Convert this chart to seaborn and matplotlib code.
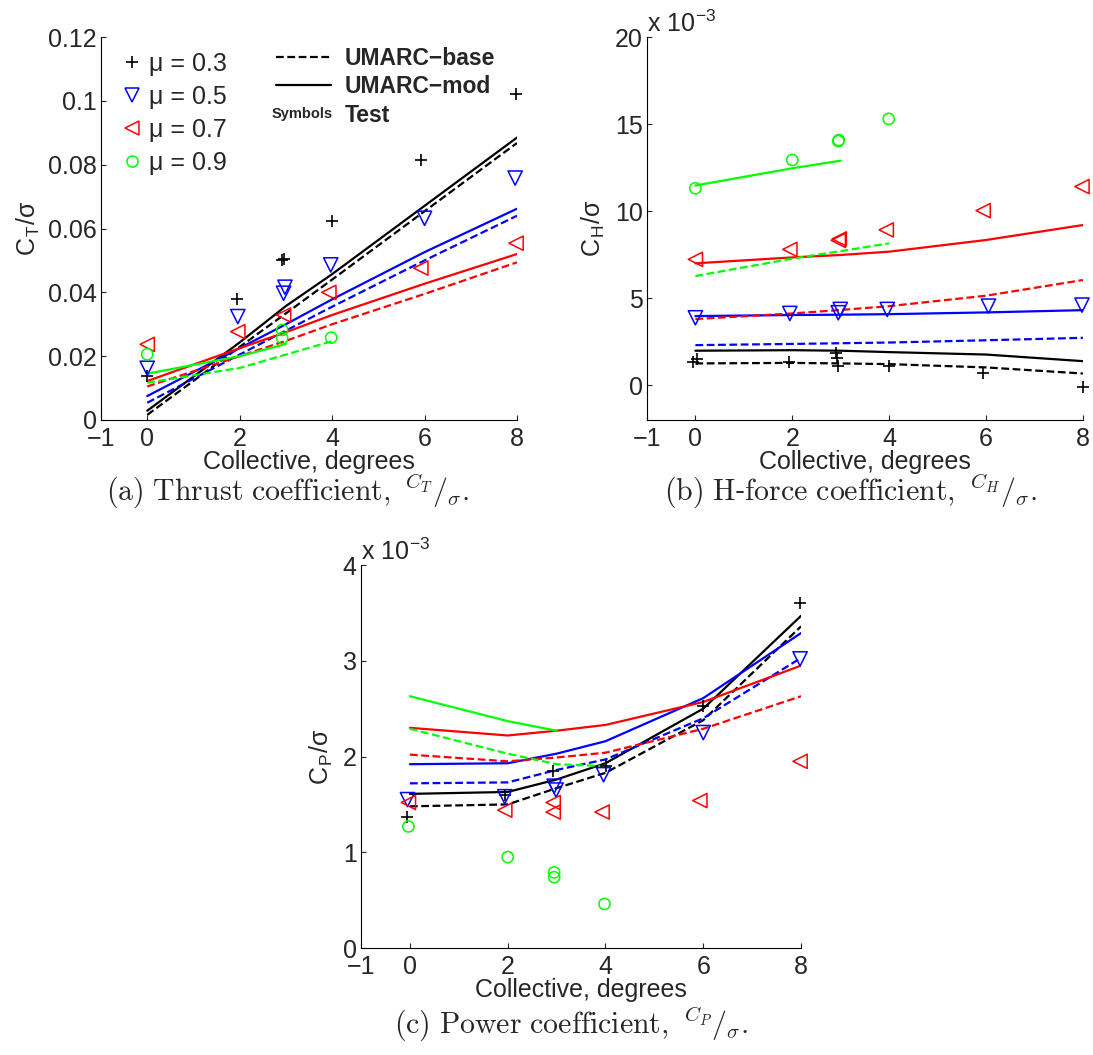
import numpy as np
import pandas as pd
import matplotlib
matplotlib.use("Agg")
import matplotlib.pyplot as plt
import seaborn as sns
from matplotlib.lines import Line2D

sns.set_style("white")
plt.rcParams["font.family"] = ["Liberation Sans", "DejaVu Sans"]
plt.rcParams["mathtext.fontset"] = "cm"
plt.rcParams["axes.edgecolor"] = "black"
plt.rcParams["axes.linewidth"] = 0.8

K = "#000000"; B = "#0000FF"; R = "#FF0000"; G = "#00FF00"
DASH = (0, (3.5, 1.6))

mu_labels = ["\u03bc = 0.3", "\u03bc = 0.5", "\u03bc = 0.7", "\u03bc = 0.9"]
colors = [K, B, R, G]
markers = ["+", "v", "<", "o"]

# ---------------- (a) thrust CT/sigma ----------------
a_t03_x = [0, 1.94, 2.91, 2.95, 3.99, 5.93, 7.98]
a_t03_y = [0.0138, 0.0379, 0.0502, 0.0505, 0.0622, 0.0814, 0.102]
a_t05_x = [0, 1.96, 2.95, 2.98, 3.97, 6.0, 7.96]
a_t05_y = [0.0162, 0.0324, 0.0397, 0.0416, 0.0486, 0.0632, 0.0758]
a_t07_x = [0, 1.96, 2.95, 3.93, 5.92, 7.98]
a_t07_y = [0.0237, 0.0277, 0.0329, 0.040, 0.0476, 0.0554]
a_t09_x = [0, 2.92, 2.92, 3.98]
a_t09_y = [0.0206, 0.0282, 0.0257, 0.0258]

coll = [0, 2, 3, 4, 6, 8]
coll_09 = [0, 2, 3, 4]
coll_09m = [0, 2, 3]

a_mod03 = [0.0029, 0.0243, 0.0357, 0.0457, 0.0671, 0.0885]
a_base03 = [0.0016, 0.0229, 0.0334, 0.0440, 0.0654, 0.0868]
a_mod05 = [0.0075, 0.0225, 0.0300, 0.0378, 0.0526, 0.0662]
a_base05 = [0.0054, 0.0205, 0.0280, 0.0355, 0.0500, 0.0640]
a_mod07 = [0.0122, 0.0225, 0.0275, 0.0329, 0.0427, 0.0520]
a_base07 = [0.0105, 0.0200, 0.0248, 0.0300, 0.0395, 0.0494]
a_mod09 = [0.0145, 0.0200, 0.0238]
a_base09 = [0.0117, 0.0163, 0.0205, 0.0247]

# ---------------- (b) H-force CH/sigma (x 10^-3) ----------------
b_t03_x = [-0.04, 0.04, 1.94, 2.91, 2.92, 2.95, 4.0, 5.94, 8.0]
b_t03_y = [1.34, 1.53, 1.36, 1.86, 1.59, 1.12, 1.09, 0.71, -0.1]
b_t05_x = [0, 1.95, 2.95, 2.99, 3.96, 6.05, 7.98]
b_t05_y = [3.87, 4.12, 4.16, 4.35, 4.35, 4.54, 4.6]
b_t07_x = [0, 1.95, 2.95, 2.97, 3.94, 5.94, 7.98]
b_t07_y = [7.23, 7.8, 8.32, 8.4, 8.92, 10.03, 11.41]
b_t09_x = [0, 2.0, 2.95, 2.96, 3.99]
b_t09_y = [11.31, 12.94, 14.02, 14.08, 15.3]

b_mod03 = [1.98, 2.01, 1.98, 1.90, 1.76, 1.38]
b_base03 = [1.25, 1.28, 1.25, 1.21, 1.02, 0.67]
b_mod05 = [3.97, 4.03, 4.05, 4.08, 4.18, 4.31]
b_base05 = [2.30, 2.37, 2.41, 2.45, 2.58, 2.72]
b_mod07 = [7.00, 7.34, 7.48, 7.67, 8.34, 9.20]
b_base07 = [3.80, 4.12, 4.32, 4.54, 5.14, 6.04]
b_mod09 = [11.47, 12.46, 12.90]
b_base09 = [6.27, 7.27, 7.70, 8.15]

# ---------------- (c) power CP/sigma (x 10^-3) ----------------
c_t03_x = [-0.05, 1.94, 2.92, 4.01, 5.99, 7.98]
c_t03_y = [1.37, 1.60, 1.85, 1.90, 2.53, 3.60]
c_t05_x = [-0.05, 1.94, 2.95, 2.99, 3.96, 6.0, 7.98]
c_t05_y = [1.55, 1.58, 1.69, 1.65, 1.81, 2.25, 3.02]
c_t07_x = [-0.03, 1.94, 2.93, 2.93, 3.93, 5.93, 7.98]
c_t07_y = [1.52, 1.44, 1.52, 1.42, 1.42, 1.54, 1.95]
c_t09_x = [-0.03, 2.0, 2.95, 2.95, 3.98]
c_t09_y = [1.27, 0.95, 0.79, 0.74, 0.46]

c_mod03 = [1.61, 1.63, 1.76, 1.93, 2.50, 3.47]
c_base03 = [1.48, 1.50, 1.67, 1.83, 2.38, 3.36]
c_mod05 = [1.92, 1.93, 2.03, 2.16, 2.61, 3.29]
c_base05 = [1.72, 1.73, 1.86, 1.97, 2.40, 3.03]
c_mod07 = [2.30, 2.22, 2.27, 2.33, 2.57, 2.95]
c_base07 = [2.02, 1.95, 1.99, 2.04, 2.29, 2.63]
c_mod09 = [2.63, 2.37, 2.27]
c_base09 = [2.29, 2.03, 1.92, 1.90]


def draw_panel(ax, tests, mods, bases):
    for (tx, ty), c, m in zip(tests, colors, markers):
        if m == "+":
            sns.scatterplot(x=tx, y=ty, ax=ax, marker="+", color=c, s=85,
                            linewidth=1.2, zorder=3, clip_on=False)
        else:
            s = 65 if m == "o" else 105
            sns.scatterplot(x=tx, y=ty, ax=ax, marker=m, color=c, s=s,
                            facecolor="none", edgecolor=c, linewidth=1.1,
                            zorder=3, clip_on=False)
    for i, c in enumerate(colors):
        xb = coll_09 if i == 3 else coll
        xm = coll_09m if i == 3 else coll
        sns.lineplot(x=xb, y=bases[i], ax=ax, color=c, lw=1.6, ls=DASH,
                     estimator=None, sort=False)
        sns.lineplot(x=xm, y=mods[i], ax=ax, color=c, lw=1.6,
                     estimator=None, sort=False)
    ax.set_xlim(-1, 8)
    ax.set_xticks([-1, 0, 2, 4, 6, 8])
    ax.set_xticklabels(["\u22121", "0", "2", "4", "6", "8"])
    sns.despine(ax=ax)
    ax.tick_params(direction="in", length=3.5, width=0.8, labelsize=18,
                   bottom=True, left=True, top=False, right=False)
    ax.tick_params(axis="x", pad=5)
    ax.tick_params(axis="y", pad=3)
    ax.set_xlabel("Collective, degrees", fontsize=18, labelpad=-1)


fig = plt.figure(figsize=(10.93, 10.55), dpi=100)
ax_a = fig.add_axes([0.0924, 0.6019, 0.3806, 0.3630])
ax_b = fig.add_axes([0.5919, 0.6019, 0.3989, 0.3630])
ax_c = fig.add_axes([0.3303, 0.1014, 0.4026, 0.3630])

draw_panel(ax_a,
           [(a_t03_x, a_t03_y), (a_t05_x, a_t05_y), (a_t07_x, a_t07_y), (a_t09_x, a_t09_y)],
           [a_mod03, a_mod05, a_mod07, a_mod09],
           [a_base03, a_base05, a_base07, a_base09])
ax_a.set_ylim(0, 0.12)
ax_a.set_yticks([0, 0.02, 0.04, 0.06, 0.08, 0.1, 0.12])
ax_a.set_yticklabels(["0", "0.02", "0.04", "0.06", "0.08", "0.1", "0.12"])
ax_a.set_ylabel("C$_\\mathdefault{T}$/\u03c3", fontsize=18, labelpad=4)

draw_panel(ax_b,
           [(b_t03_x, b_t03_y), (b_t05_x, b_t05_y), (b_t07_x, b_t07_y), (b_t09_x, b_t09_y)],
           [b_mod03, b_mod05, b_mod07, b_mod09],
           [b_base03, b_base05, b_base07, b_base09])
ax_b.set_ylim(-2, 20)
ax_b.set_yticks([0, 5, 10, 15, 20])
ax_b.set_yticklabels(["0", "5", "10", "15", "20"])
ax_b.set_ylabel("C$_\\mathdefault{H}$/\u03c3", fontsize=18, labelpad=6)
ax_b.text(0.0, 1.012, "x 10$^{\\mathdefault{-3}}$", transform=ax_b.transAxes,
          fontsize=18, va="baseline", ha="left")

draw_panel(ax_c,
           [(c_t03_x, c_t03_y), (c_t05_x, c_t05_y), (c_t07_x, c_t07_y), (c_t09_x, c_t09_y)],
           [c_mod03, c_mod05, c_mod07, c_mod09],
           [c_base03, c_base05, c_base07, c_base09])
ax_c.set_ylim(0, 4)
ax_c.set_yticks([0, 1, 2, 3, 4])
ax_c.set_yticklabels(["0", "1", "2", "3", "4"])
ax_c.set_ylabel("C$_\\mathdefault{P}$/\u03c3", fontsize=18, labelpad=6)
ax_c.text(0.0, 1.012, "x 10$^{\\mathdefault{-3}}$", transform=ax_c.transAxes,
          fontsize=18, va="baseline", ha="left")

# legends in panel (a)
mk_handles = []
for c, m in zip(colors, markers):
    if m == "+":
        mk_handles.append(Line2D([], [], ls="none", marker="+", color=c, ms=9, mew=1.2))
    else:
        mk_handles.append(Line2D([], [], ls="none", marker=m, mfc="none", mec=c,
                                 ms=8 if m == "o" else 10, mew=1.1))
leg1 = ax_a.legend(mk_handles, mu_labels, loc="upper left", bbox_to_anchor=(0.05, 0.961),
                   frameon=False, fontsize=18, handlelength=0.8, handletextpad=0.3,
                   labelspacing=0.36, borderpad=0, borderaxespad=0)
ax_a.add_artist(leg1)

ln_handles = [Line2D([], [], color=K, lw=1.6, ls=DASH),
              Line2D([], [], color=K, lw=1.6),
              Line2D([], [], color="none")]
ax_a.legend(ln_handles, ["UMARC\u2212base", "UMARC\u2212mod", "Test"], loc="upper left",
            bbox_to_anchor=(0.42, 0.974), frameon=False,
            prop={"weight": "bold", "size": 16.5}, handlelength=2.4,
            handletextpad=0.6, labelspacing=0.24, borderpad=0, borderaxespad=0)
ax_a.text(0.483, 0.80, "Symbols", transform=ax_a.transAxes, fontsize=10.5,
          fontweight="bold", ha="center", va="center")

# captions
fig.text(288 / 1093, 1 - 491 / 1055,
         r"$\mathrm{(a)\ Thrust\ coefficient,}\ ^{C_T}/_{\sigma}.$",
         fontsize=21.5, ha="center", va="center")
fig.text(851 / 1093, 1 - 491 / 1055,
         r"$\mathrm{(b)\ H}$-$\mathrm{force\ coefficient,}\ ^{C_H}/_{\sigma}.$",
         fontsize=21.5, ha="center", va="center")
fig.text(571 / 1093, 1 - 1024 / 1055,
         r"$\mathrm{(c)\ Power\ coefficient,}\ ^{C_P}/_{\sigma}.$",
         fontsize=21.5, ha="center", va="center")

fig.savefig("out.png", dpi=100)
